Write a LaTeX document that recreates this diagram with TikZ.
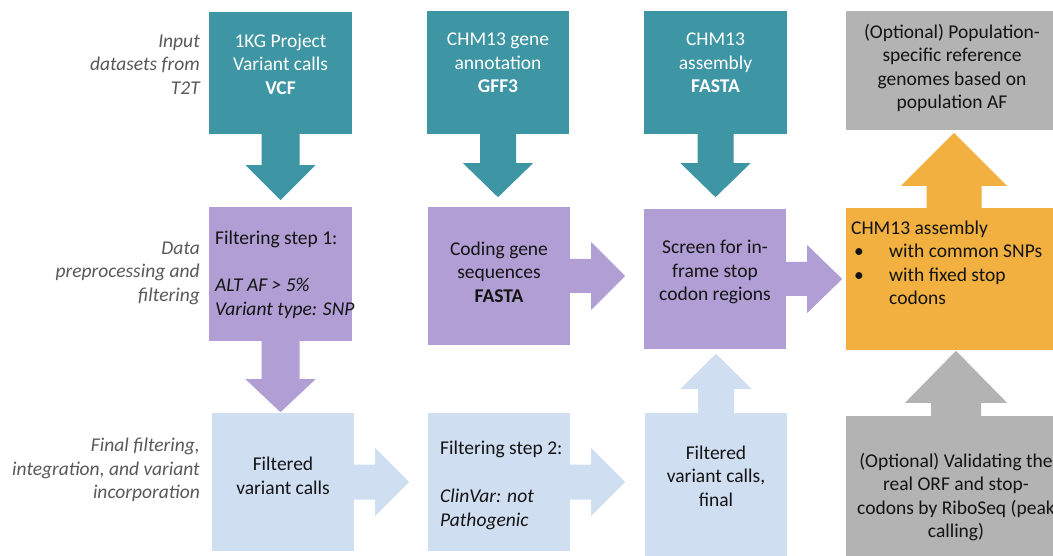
\documentclass[tikz,border=0pt]{standalone}
\usepackage{fontspec}
\setmainfont{Carlito}
\definecolor{tealc}{RGB}{62,149,163}
\definecolor{purp}{RGB}{176,158,213}
\definecolor{lblue}{RGB}{208,222,242}
\definecolor{orng}{RGB}{242,176,65}
\definecolor{greyc}{RGB}{179,179,179}
\definecolor{labc}{RGB}{89,89,89}
\definecolor{ink}{RGB}{20,20,20}
\tikzset{
  pics/fatarrow/.style n args={5}{code={
    \fill[#1] (-1,-#2) -- (#3,-#2) -- (#3,-#4) -- ({#3+#5},0) -- (#3,#4) -- (#3,#2) -- (-1,#2) -- cycle;
  }},
  box/.style={rectangle, inner sep=0pt, draw=none},
  txt/.style={inner sep=0pt, align=center, font=\fontsize{19.5}{23.5}\selectfont, text=ink},
  wtxt/.style={txt, text=white},
  ltxt/.style={txt, align=left, anchor=west},
  lab/.style={inner sep=0pt, align=right, anchor=east, text=labc, font=\fontsize{19.5}{23.5}\selectfont\itshape},
}
\begin{document}
\begin{tikzpicture}[x=1pt,y=1pt]
\useasboundingbox (0,0) rectangle (1053,-556);
\fill[white] (0,0) rectangle (1053,-556);
\clip (0,0) rectangle (1053,-556);
% row 1 boxes
\node[box, fill=tealc, minimum width=143, minimum height=122] (t1) at (280.5,-73) {};
\node[box, fill=tealc, minimum width=142, minimum height=123] (t2) at (498,-72.5) {};
\node[box, fill=tealc, minimum width=143, minimum height=123] (t3) at (715.5,-72.5) {};
\node[box, fill=greyc, minimum width=216, minimum height=119] (g1) at (954,-70.5) {};
% row 2 boxes
\node[box, fill=purp, minimum width=143, minimum height=134] (p1) at (280.5,-274) {};
\node[box, fill=purp, minimum width=142, minimum height=138] (p2) at (499,-276) {};
\node[box, fill=purp, minimum width=142, minimum height=140] (p3) at (715,-279) {};
\node[box, fill=orng, minimum width=216, minimum height=142] (o1) at (954,-279) {};
% row 3 boxes
\node[box, fill=lblue, minimum width=142, minimum height=138] (b1) at (283,-482) {};
\node[box, fill=lblue, minimum width=142, minimum height=138] (b2) at (499,-482) {};
\node[box, fill=lblue, minimum width=142, minimum height=170] (b3) at (716,-498) {};
\node[box, fill=greyc, minimum width=216, minimum height=170] (g2) at (954,-501) {};
% arrows
\pic[rotate=-90] at (t1.south) {fatarrow={tealc}{19}{31}{35}{35}};
\pic[rotate=-90] at (t2.south) {fatarrow={tealc}{18}{29}{35}{34}};
\pic[rotate=-90] at (t3.south) {fatarrow={tealc}{18}{29}{35}{34}};
\pic[rotate=-90] at (p1.south) {fatarrow={purp}{19}{38}{35}{33}};
\pic at (p2.east) {fatarrow={purp}{17}{21}{34}{34}};
\pic at (p3.east) {fatarrow={purp}{17}{21}{34}{35}};
\pic at (b1.east) {fatarrow={lblue}{17.5}{21}{34}{34}};
\pic at (b2.east) {fatarrow={lblue}{17.5}{21}{34}{34}};
\pic[rotate=90] at (b3.north) {fatarrow={lblue}{18}{24}{35.5}{35}};
\pic[rotate=90] at (o1.north) {fatarrow={orng}{27.5}{22}{53}{53}};
\pic[rotate=90] at ([xshift=2]g2.north) {fatarrow={greyc}{25}{13}{51}{52}};
% texts in boxes
\node[wtxt] (t1x) at ([yshift=9]t1.center) {1KG Project\\Variant calls\\\textbf{VCF}};
\node[wtxt] (t2x) at ([yshift=9.5]t2.center) {CHM13 gene\\annotation\\\textbf{GFF3}};
\node[wtxt] (t3x) at ([yshift=9.5]t3.center) {CHM13\\assembly\\\textbf{FASTA}};
\node[txt] (g1x) at ([xshift=-2,yshift=2.5]g1.center) {(Optional) Population-\\specific reference\\genomes based on\\population AF};
\node[ltxt] (p1x) at (215,-275) {Filtering step 1:\\[23.5pt]\textit{ALT AF > 5\%}\\\textit{Variant type: SNP}};
\node[txt] (p2x) at ([yshift=4]p2.center) {Coding gene\\sequences\\\textbf{FASTA}};
\node[txt] (p3x) at ([yshift=7]p3.center) {Screen for in-\\frame stop\\codon regions};
\node[ltxt] (o1x) at (851,-263) {CHM13 assembly\\\makebox[38pt][l]{\hspace{3pt}•}with common SNPs\\\makebox[38pt][l]{\hspace{3pt}•}with fixed stop\\\hspace{38pt}codons};
\node[txt] (b1x) at ([yshift=6]b1.center) {Filtered\\variant calls};
\node[ltxt] (b2x) at (440,-485) {Filtering step 2:\\[25pt]\textit{ClinVar: not}\\\textit{Pathogenic}};
\node[txt] (b3x) at (716,-476) {Filtered\\variant calls,\\final};
\node[txt] (g2x) at (956,-497) {(Optional) Validating the\\real ORF and stop-\\codons by RiboSeq (peak\\calling)};
% row labels
\node[lab] (l1) at (200,-64.5) {Input\\datasets from\\T2T};
\node[lab] (l2) at (200,-273) {Data\\preprocessing and\\filtering};
\node[lab] (l3) at (200,-470) {Final filtering,\\integration, and variant\\incorporation};
\end{tikzpicture}
\end{document}
